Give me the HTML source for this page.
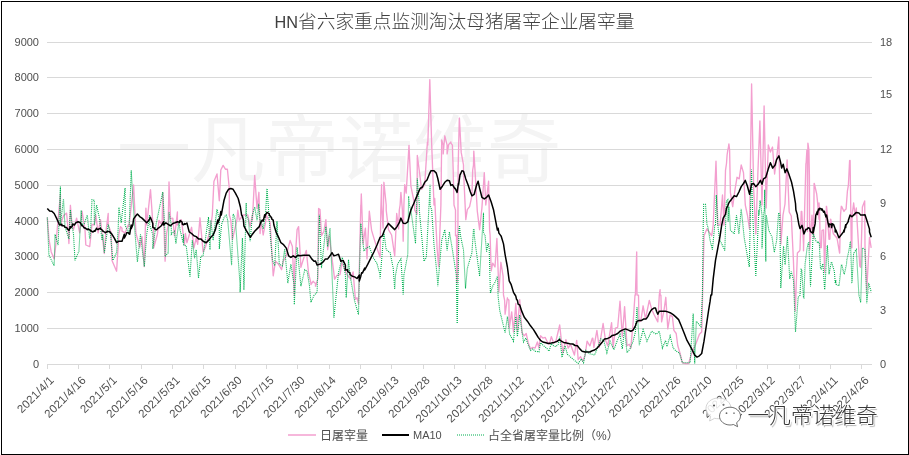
<!DOCTYPE html>
<html><head><meta charset="utf-8"><style>
*{margin:0;padding:0;box-sizing:border-box}
html,body{width:909px;height:455px;background:#fff;overflow:hidden}
body{position:relative;font-family:"Liberation Sans","Noto Sans CJK SC",sans-serif;color:#4f4f4f}
#frame{position:absolute;left:1px;top:1px;width:908px;height:454px;border:1px solid #000}
#title{position:absolute;left:274.5px;top:10px;font-weight:300;font-size:18.7px;line-height:24px;white-space:nowrap;color:#404040;font-family:"Liberation Sans","Noto Sans CJK SC",sans-serif}
#wm{position:absolute;left:117px;top:94px;font-size:74px;line-height:100px;color:#f4f4f4;white-space:nowrap;font-family:"Noto Sans CJK SC",sans-serif}
.yl{position:absolute;right:870px;font-size:11px;line-height:16px;white-space:nowrap;text-align:right}
.yr{position:absolute;left:880px;font-size:11px;line-height:16px;white-space:nowrap}
.xl{position:absolute;width:200px;text-align:right;font-size:11.5px;letter-spacing:0.25px;line-height:14px;white-space:nowrap;transform-origin:100% 0;transform:rotate(-45deg)}
svg{position:absolute;left:0;top:0}
.lg{position:absolute;top:428px;font-size:12px;line-height:16px;white-space:nowrap}
#wm2{position:absolute;left:747.5px;top:400px;font-size:21.7px;line-height:28px;white-space:nowrap;color:#383838;font-weight:300;font-family:"Noto Sans CJK SC",sans-serif;text-shadow:1px 0 0 #fff,-1px 0 0 #fff,0 1px 0 #fff,0 -1px 0 #fff,1.5px 1.5px 1px rgba(0,0,0,.3)}
#wx{position:absolute;left:0;top:0}
</style></head><body>
<div id="frame"></div>
<div id="wm">一凡帝诺维奇</div>
<div id="title"><span style="font-size:16.3px">HN</span>省六家重点监测淘汰母猪屠宰企业屠宰量</div>
<div class="yl" style="top:33.5px">9000</div><div class="yl" style="top:68.5px">8000</div><div class="yl" style="top:104.5px">7000</div><div class="yl" style="top:140.5px">6000</div><div class="yl" style="top:176.5px">5000</div><div class="yl" style="top:212.5px">4000</div><div class="yl" style="top:247.5px">3000</div><div class="yl" style="top:283.5px">2000</div><div class="yl" style="top:319.5px">1000</div><div class="yl" style="top:355.5px">0</div>
<div class="yr" style="top:33.5px">18</div><div class="yr" style="top:86.2px">15</div><div class="yr" style="top:140.8px">12</div><div class="yr" style="top:194.5px">9</div><div class="yr" style="top:248.2px">6</div><div class="yr" style="top:301.8px">3</div><div class="yr" style="top:355.5px">0</div>
<svg width="909" height="455" viewBox="0 0 909 455">
<line x1="47" y1="42.5" x2="872" y2="42.5" stroke="#d9d9d9" stroke-width="1"/><line x1="47" y1="77.5" x2="872" y2="77.5" stroke="#d9d9d9" stroke-width="1"/><line x1="47" y1="113.5" x2="872" y2="113.5" stroke="#d9d9d9" stroke-width="1"/><line x1="47" y1="149.5" x2="872" y2="149.5" stroke="#d9d9d9" stroke-width="1"/><line x1="47" y1="185.5" x2="872" y2="185.5" stroke="#d9d9d9" stroke-width="1"/><line x1="47" y1="221.5" x2="872" y2="221.5" stroke="#d9d9d9" stroke-width="1"/><line x1="47" y1="256.5" x2="872" y2="256.5" stroke="#d9d9d9" stroke-width="1"/><line x1="47" y1="292.5" x2="872" y2="292.5" stroke="#d9d9d9" stroke-width="1"/><line x1="47" y1="328.5" x2="872" y2="328.5" stroke="#d9d9d9" stroke-width="1"/><line x1="47" y1="364.5" x2="872" y2="364.5" stroke="#d9d9d9" stroke-width="1"/><line x1="47.5" y1="364" x2="47.5" y2="369" stroke="#d9d9d9" stroke-width="1"/><line x1="78.5" y1="364" x2="78.5" y2="369" stroke="#d9d9d9" stroke-width="1"/><line x1="109.5" y1="364" x2="109.5" y2="369" stroke="#d9d9d9" stroke-width="1"/><line x1="141.5" y1="364" x2="141.5" y2="369" stroke="#d9d9d9" stroke-width="1"/><line x1="172.5" y1="364" x2="172.5" y2="369" stroke="#d9d9d9" stroke-width="1"/><line x1="203.5" y1="364" x2="203.5" y2="369" stroke="#d9d9d9" stroke-width="1"/><line x1="235.5" y1="364" x2="235.5" y2="369" stroke="#d9d9d9" stroke-width="1"/><line x1="266.5" y1="364" x2="266.5" y2="369" stroke="#d9d9d9" stroke-width="1"/><line x1="297.5" y1="364" x2="297.5" y2="369" stroke="#d9d9d9" stroke-width="1"/><line x1="329.5" y1="364" x2="329.5" y2="369" stroke="#d9d9d9" stroke-width="1"/><line x1="360.5" y1="364" x2="360.5" y2="369" stroke="#d9d9d9" stroke-width="1"/><line x1="391.5" y1="364" x2="391.5" y2="369" stroke="#d9d9d9" stroke-width="1"/><line x1="423.5" y1="364" x2="423.5" y2="369" stroke="#d9d9d9" stroke-width="1"/><line x1="454.5" y1="364" x2="454.5" y2="369" stroke="#d9d9d9" stroke-width="1"/><line x1="485.5" y1="364" x2="485.5" y2="369" stroke="#d9d9d9" stroke-width="1"/><line x1="517.5" y1="364" x2="517.5" y2="369" stroke="#d9d9d9" stroke-width="1"/><line x1="548.5" y1="364" x2="548.5" y2="369" stroke="#d9d9d9" stroke-width="1"/><line x1="579.5" y1="364" x2="579.5" y2="369" stroke="#d9d9d9" stroke-width="1"/><line x1="611.5" y1="364" x2="611.5" y2="369" stroke="#d9d9d9" stroke-width="1"/><line x1="642.5" y1="364" x2="642.5" y2="369" stroke="#d9d9d9" stroke-width="1"/><line x1="673.5" y1="364" x2="673.5" y2="369" stroke="#d9d9d9" stroke-width="1"/><line x1="705.5" y1="364" x2="705.5" y2="369" stroke="#d9d9d9" stroke-width="1"/><line x1="736.5" y1="364" x2="736.5" y2="369" stroke="#d9d9d9" stroke-width="1"/><line x1="767.5" y1="364" x2="767.5" y2="369" stroke="#d9d9d9" stroke-width="1"/><line x1="799.5" y1="364" x2="799.5" y2="369" stroke="#d9d9d9" stroke-width="1"/><line x1="830.5" y1="364" x2="830.5" y2="369" stroke="#d9d9d9" stroke-width="1"/><line x1="861.5" y1="364" x2="861.5" y2="369" stroke="#d9d9d9" stroke-width="1"/><polyline points="47.3,217.4 48.9,238.9 51.2,251.9 54.2,258.9 55.8,245.0 60.4,194.3 60.4,225.0 63.5,215.8 66.6,213.1 68.1,229.7 68.9,243.5 70.4,205.3 72.0,225.0 73.5,229.7 76.6,218.1 79.7,232.8 82.0,211.2 85.0,229.7 85.8,245.0 89.7,246.6 92.0,224.3 94.3,225.0 95.8,215.1 98.1,232.8 100.5,219.7 104.3,253.5 105.8,232.8 108.2,213.5 108.2,225.0 111.2,232.8 112.0,260.4 116.6,271.2 118.9,234.2 120.5,226.6 122.0,228.2 122.0,231.2 125.1,232.8 128.2,225.0 128.9,226.6 133.6,185.0 135.9,232.8 139.7,247.3 142.0,236.6 144.3,266.6 145.9,208.1 146.7,225.0 150.5,189.6 153.6,234.3 153.6,248.1 157.4,234.2 159.0,220.4 162.1,225.0 162.8,192.7 165.1,261.2 166.7,232.8 168.2,225.0 169.0,181.9 170.5,218.9 172.8,218.1 174.4,235.8 175.1,232.8 177.4,212.0 177.4,225.0 181.3,219.7 182.3,226.6 184.4,245.0 185.4,233.5 186.9,242.7 191.6,227.3 193.9,248.1 196.2,238.1 197.7,244.3 200.0,217.8 200.0,218.1 203.1,252.0 205.4,247.3 209.3,233.5 211.6,220.1 212.3,215.0 213.9,181.6 217.0,173.9 219.3,200.8 220.8,170.0 223.1,165.4 225.4,169.2 227.4,169.2 229.3,188.5 229.3,215.0 230.8,220.1 232.4,239.6 237.0,219.6 237.8,210.1 239.3,220.1 243.2,215.0 247.8,215.0 250.1,226.6 252.4,215.0 252.4,220.1 254.7,175.4 257.0,208.5 258.9,192.3 260.1,233.5 260.9,220.1 263.2,235.0 265.5,222.7 266.2,215.0 270.1,222.7 273.2,275.8 275.5,261.2 278.6,264.3 281.6,269.7 283.2,261.2 286.3,255.8 290.1,240.4 292.4,246.6 294.3,295.4 294.7,265.8 297.1,229.6 298.6,226.6 300.9,267.4 303.2,259.7 306.3,250.4 308.6,273.5 310.9,282.8 310.9,284.6 313.2,281.2 313.2,281.5 315.5,283.5 315.5,286.2 317.8,278.9 318.6,208.5 320.0,209.6 321.5,235.8 323.9,231.2 325.9,219.6 327.7,249.7 329.2,235.8 334.6,279.2 336.9,275.4 340.0,274.6 340.8,270.0 341.6,262.0 346.9,274.6 350.8,279.2 353.1,272.0 355.4,299.3 357.0,297.7 358.5,303.9 360.8,205.0 360.8,210.1 361.3,193.9 361.9,210.1 363.1,243.5 365.4,228.1 367.0,258.9 369.3,211.2 371.6,230.4 373.9,238.1 377.0,248.1 380.1,257.4 380.8,210.1 381.6,184.7 381.6,205.0 383.1,228.1 383.9,182.3 386.2,205.0 386.2,210.1 388.5,229.6 391.6,235.0 394.7,255.8 396.7,213.5 398.6,228.9 399.3,210.1 400.1,205.0 400.9,192.4 402.4,210.1 403.2,241.2 403.9,205.0 404.7,184.7 406.2,193.1 409.0,145.4 410.9,186.2 414.7,205.0 414.7,210.1 417.0,214.2 417.3,155.4 419.3,170.8 421.6,189.3 424.7,184.7 427.4,142.3 427.8,145.1 429.8,79.6 431.7,145.1 434.0,205.0 434.7,198.5 437.1,248.1 438.6,266.6 440.9,205.0 441.7,140.0 443.2,145.1 443.2,153.9 444.8,135.8 447.1,145.1 447.1,153.9 448.6,144.6 450.9,142.0 450.9,143.1 452.4,145.1 453.2,170.8 454.0,205.0 455.5,210.1 455.5,235.8 456.5,235.1 456.9,282.4 457.1,275.1 457.1,283.1 457.8,270.0 458.1,165.0 458.1,170.1 459.3,118.2 459.4,118.1 461.2,152.4 463.5,165.0 463.5,170.1 465.8,219.7 467.3,209.7 469.6,206.6 471.9,195.8 472.7,170.1 473.5,165.0 473.8,151.1 475.0,170.1 477.3,211.2 479.6,229.7 481.9,208.1 484.3,172.7 485.8,205.0 488.6,181.2 489.6,230.0 490.1,235.1 491.2,270.8 492.7,263.1 495.0,267.0 496.9,238.5 498.9,291.6 500.9,262.3 503.1,276.2 503.5,295.0 504.6,300.1 505.1,314.2 507.4,297.8 507.4,298.9 508.9,300.1 509.2,328.1 511.7,311.9 513.5,332.0 515.8,303.5 517.4,330.4 519.7,299.6 522.0,332.7 524.3,335.8 526.2,333.5 528.2,342.7 530.5,348.9 532.8,347.4 535.1,348.1 537.4,342.0 538.9,348.1 540.5,335.8 542.8,338.1 545.1,337.4 547.4,342.0 549.3,344.3 551.3,336.6 553.6,342.7 555.9,341.2 559.7,325.0 561.3,339.7 562.8,352.8 565.9,339.7 568.2,348.1 570.5,344.3 574.4,355.1 576.7,340.4 578.2,359.7 580.5,356.6 582.8,361.2 585.1,355.1 587.1,341.2 589.8,345.8 590.0,345.8 592.3,338.1 592.8,338.1 593.9,347.4 594.4,344.3 596.9,330.4 599.2,347.4 603.1,323.5 605.4,339.7 607.7,345.8 611.6,322.7 613.1,347.4 615.4,328.1 617.7,327.3 620.0,301.2 622.3,336.6 624.6,306.6 627.0,345.8 629.3,344.3 630.8,348.1 633.1,322.7 635.0,295.0 635.4,295.1 636.7,251.9 637.0,295.0 638.5,295.1 639.0,321.9 640.8,321.2 643.1,305.8 645.5,318.9 649.3,300.4 651.6,308.9 653.9,314.2 657.8,321.9 659.3,295.1 660.1,289.7 660.1,295.0 660.9,295.1 661.6,321.9 663.9,311.2 665.8,297.3 667.8,328.9 670.1,315.0 672.4,316.6 673.9,330.4 676.2,333.5 677.8,345.8 680.1,353.5 682.4,362.8 685.5,363.5 688.6,363.5 691.6,353.5 696.3,342.7 699.4,334.3 701.7,332.0 704.0,235.8 707.0,228.8 711.7,235.8 713.2,225.0 713.2,225.1 716.0,161.2 717.8,225.1 720.1,225.1 722.5,195.0 724.0,225.1 725.0,191.2 725.5,170.4 726.5,163.5 727.1,155.0 727.8,150.1 728.4,147.3 728.9,143.9 729.6,150.1 730.4,192.7 732.7,206.6 735.0,189.7 737.0,177.3 739.2,178.9 741.2,165.0 743.5,172.7 745.3,205.0 747.4,215.0 749.5,229.0 751.6,84.0 753.7,190.0 755.8,234.0 757.8,175.0 759.9,121.0 762.0,205.0 764.1,106.0 766.2,208.0 768.3,145.0 770.4,152.0 772.5,147.0 774.6,174.0 776.7,158.0 778.8,137.0 780.9,244.0 783.0,215.0 785.0,204.0 787.1,160.0 789.2,212.0 791.3,216.0 793.4,260.0 795.3,311.0 797.4,253.1 799.7,250.8 800.0,249.6 801.2,211.5 801.2,215.1 801.8,211.5 803.5,244.3 803.5,250.8 805.9,163.5 806.1,163.2 806.9,150.1 807.4,150.0 807.4,231.6 807.9,143.2 808.9,150.1 809.4,175.8 809.7,249.3 812.0,215.1 813.6,238.5 814.1,183.4 814.3,183.5 816.7,194.0 817.4,200.4 819.0,219.2 819.0,202.8 819.7,215.1 820.2,247.9 821.3,247.7 822.0,230.3 823.6,230.0 824.6,272.5 826.4,206.3 826.6,206.6 827.4,215.1 829.0,239.3 829.9,239.1 830.5,219.2 830.8,219.4 832.8,231.6 833.4,233.8 836.7,237.7 836.9,237.3 839.6,253.1 839.7,253.1 840.5,215.1 841.3,206.3 841.7,206.6 844.0,211.5 844.4,210.5 846.1,208.9 847.4,191.2 848.4,185.2 849.6,160.6 850.1,160.4 851.3,247.7 851.9,247.9 852.1,215.1 853.6,203.5 853.6,202.8 855.1,215.1 856.3,208.0 859.8,266.2 860.7,267.2 862.4,207.1 864.7,201.0 865.0,246.1 866.8,290.1 869.5,237.3 871.2,247.9" fill="none" stroke="#f39fcf" stroke-width="1.35" stroke-linejoin="round"/><polyline points="47.3,217.4 48.9,255.0 54.2,265.8 55.0,234.3 58.1,245.0 60.4,186.6 60.4,225.0 63.5,198.9 65.0,226.6 68.9,238.9 70.4,209.7 72.0,225.0 73.5,234.3 75.0,260.4 78.9,251.2 81.2,210.4 82.0,225.0 84.3,223.5 87.3,215.1 89.7,238.9 90.4,234.3 92.0,199.7 94.3,200.4 94.3,225.0 96.6,205.0 99.7,219.7 102.0,240.4 102.8,234.3 104.3,252.7 108.2,224.3 110.5,234.3 112.8,260.4 116.6,252.7 118.2,228.1 118.9,207.3 121.2,222.8 125.1,188.1 125.1,225.0 128.9,234.3 131.2,170.4 135.1,234.3 137.4,262.0 140.5,234.3 144.3,266.6 146.7,234.2 149.7,215.1 149.7,225.0 152.8,234.3 152.8,248.9 155.9,225.0 162.8,191.9 165.1,234.3 165.1,256.6 168.2,252.7 169.0,212.0 171.3,225.0 171.3,234.3 174.4,231.2 175.9,243.5 179.0,222.0 180.0,229.6 183.1,242.7 183.6,234.3 183.6,245.0 186.2,245.8 190.0,276.6 192.3,240.4 194.6,258.1 196.2,249.7 198.5,278.1 200.8,256.6 203.1,255.8 208.5,217.0 208.5,217.3 210.0,249.7 210.8,220.1 213.1,240.4 216.2,215.0 217.0,209.3 219.3,220.1 219.3,248.9 221.6,224.2 223.9,218.1 225.4,215.5 226.2,215.0 227.7,220.1 231.6,265.1 233.1,213.9 233.9,215.0 235.4,220.1 240.1,285.1 240.1,292.3 242.4,238.1 243.9,285.1 243.9,290.0 246.2,203.1 246.2,215.0 248.5,220.1 250.1,241.2 252.4,215.0 254.7,207.0 257.0,220.1 257.8,215.0 258.6,203.9 260.1,221.2 260.9,220.1 263.2,228.9 265.5,215.0 267.0,188.5 269.3,220.1 270.1,232.7 272.4,259.7 274.7,265.8 277.0,221.2 279.3,264.3 282.4,265.8 284.7,248.9 287.8,282.8 287.8,283.1 290.9,264.3 294.0,284.3 294.3,304.6 297.1,247.3 300.9,286.2 301.7,282.8 304.8,269.7 307.1,271.2 309.4,285.1 310.9,302.3 314.0,295.4 317.1,292.3 319.4,214.7 319.4,215.0 321.5,268.1 325.9,226.6 327.7,246.6 330.0,228.1 333.9,317.7 338.5,272.8 342.3,257.4 345.4,275.1 346.2,297.7 348.5,259.7 350.0,275.1 354.6,300.8 358.5,314.7 359.3,275.1 360.8,223.5 363.9,251.2 366.2,248.1 369.3,246.6 373.1,257.4 377.0,263.5 380.1,275.1 380.1,278.5 383.9,232.7 386.2,249.7 390.1,252.7 393.2,268.1 394.7,289.2 395.5,275.1 397.8,263.5 400.9,258.9 403.2,294.6 403.9,275.1 407.8,254.3 408.6,196.2 409.3,205.0 410.9,210.1 415.5,243.5 417.3,178.5 419.3,205.0 419.3,210.1 424.0,261.2 426.3,257.4 430.1,184.7 430.1,205.0 431.7,210.1 434.0,245.0 437.1,275.1 437.8,286.2 441.7,240.4 444.8,229.6 447.1,250.4 449.4,231.9 452.4,249.7 456.3,275.1 457.1,323.1 457.3,323.5 458.9,230.0 459.4,226.6 459.6,226.6 460.4,235.1 463.5,250.0 465.5,288.5 467.3,268.5 470.4,257.7 471.9,253.1 473.5,228.9 474.2,230.0 474.2,235.1 479.6,276.2 483.5,212.7 483.5,233.1 485.0,235.1 486.6,251.6 488.1,243.1 489.2,248.5 490.4,293.1 492.7,286.2 495.0,282.4 497.4,276.2 498.1,296.2 499.7,310.4 505.1,332.7 507.4,316.6 509.7,334.3 513.5,341.2 515.8,316.6 517.4,336.6 519.7,315.0 523.5,342.0 525.9,338.1 527.4,342.7 530.5,350.4 532.8,348.9 535.1,351.2 538.9,352.0 540.5,342.7 543.6,345.8 546.6,348.1 549.0,351.2 551.3,343.5 553.6,345.8 555.9,346.6 558.2,344.3 559.7,336.6 562.0,357.4 565.1,345.8 567.4,354.3 573.6,359.7 578.2,363.5 581.3,358.9 583.6,362.8 585.9,350.4 589.0,353.5 592.1,354.3 594.4,355.1 594.6,355.1 597.7,347.4 600.8,338.9 603.9,341.2 606.9,352.8 610.0,341.2 613.9,349.7 617.0,341.2 620.0,334.3 622.3,348.9 624.6,328.9 627.0,352.8 630.0,348.9 633.1,341.2 635.4,332.0 637.0,307.3 639.3,345.1 643.1,329.6 647.0,341.2 651.6,331.2 656.2,334.3 659.3,331.2 662.4,348.1 665.5,340.4 667.0,346.6 670.1,335.8 673.2,348.1 676.2,351.2 679.3,352.8 682.4,362.8 690.1,362.8 693.2,313.5 694.7,363.5 696.3,321.2 700.9,326.6 702.4,295.1 703.2,226.5 703.7,204.3 705.5,204.3 707.0,225.1 707.8,226.5 710.1,240.4 712.4,249.6 714.8,225.0 715.5,225.1 716.3,195.0 717.8,225.1 719.4,238.9 724.8,250.4 726.3,201.2 726.5,201.2 727.8,199.7 728.1,221.6 728.9,206.6 729.6,215.1 730.4,230.0 734.2,233.9 736.5,215.4 738.9,233.9 741.2,208.9 741.2,210.0 741.9,215.1 744.2,237.7 749.3,267.0 750.4,215.1 751.5,169.6 752.7,215.1 755.8,276.2 755.8,276.5 758.9,210.0 758.9,215.1 760.1,200.4 762.0,215.1 762.0,248.5 763.5,215.1 764.3,210.0 764.7,189.7 765.8,261.6 766.3,215.1 768.9,230.8 772.0,236.9 774.3,252.3 776.6,240.8 778.6,212.8 778.9,213.1 779.7,215.1 780.8,288.1 783.5,246.2 785.1,264.7 787.4,236.2 789.7,278.9 791.2,271.6 793.5,280.1 795.5,332.0 798.2,297.3 800.0,295.3 801.2,269.3 801.8,269.8 803.5,298.0 803.9,298.1 805.1,263.9 807.0,248.7 808.2,243.1 808.8,242.6 810.5,286.6 810.5,286.5 813.2,233.8 813.6,234.6 815.9,240.8 817.4,242.3 817.6,241.7 819.3,242.6 820.5,268.5 821.1,269.0 822.8,263.9 822.9,263.7 824.6,289.2 824.8,289.6 827.2,246.1 827.4,245.4 829.0,273.1 829.0,274.2 831.3,262.4 831.6,261.9 834.4,271.6 835.2,283.0 835.9,280.1 835.9,284.2 838.7,285.7 839.0,285.8 839.7,280.1 841.3,265.4 842.0,265.4 844.0,274.2 844.4,273.9 846.6,263.7 846.7,260.8 849.0,250.0 850.1,242.6 850.5,242.3 851.9,282.1 852.1,281.9 853.6,253.1 856.3,249.6 858.9,295.3 860.2,300.4 860.7,302.4 862.4,247.9 865.0,249.6 866.8,303.2 868.6,283.0 871.2,291.8" fill="none" stroke="#00b050" stroke-width="1.1" stroke-dasharray="1 1"/><polyline points="47.3,208.4 49.6,210.9 51.9,211.2 54.2,213.5 56.5,218.1 58.9,223.5 59.6,225.0 61.9,224.3 61.9,225.8 64.2,225.8 65.0,227.3 66.6,227.4 67.3,228.8 68.1,229.7 68.9,230.4 70.4,226.6 70.4,228.1 72.0,226.5 72.7,224.0 74.3,225.0 75.8,222.8 78.1,221.7 80.4,222.8 82.0,225.8 82.7,225.8 84.3,228.1 85.0,227.8 87.3,229.6 88.1,228.9 90.4,230.4 90.4,230.5 92.7,231.9 92.7,232.0 95.1,230.5 95.1,231.2 96.6,228.2 96.6,228.8 98.1,229.6 98.9,228.9 100.5,228.2 100.5,228.8 102.8,230.5 102.8,231.2 105.1,232.4 105.1,232.8 107.4,231.5 107.4,231.5 109.7,231.5 109.7,231.9 112.0,234.2 112.0,234.3 114.3,238.1 116.6,242.7 118.9,241.2 122.0,241.2 124.3,234.3 124.3,238.1 125.9,235.0 126.6,232.8 128.2,232.7 128.9,233.5 129.7,234.2 131.2,225.1 131.2,228.8 132.8,225.0 133.6,218.9 135.9,215.8 137.4,214.0 139.7,216.6 142.0,218.1 144.3,220.4 146.7,222.8 148.5,220.8 150.5,217.4 152.8,223.5 152.8,227.3 154.7,228.2 155.1,229.6 156.7,229.7 158.2,228.1 159.0,227.8 161.3,225.8 161.3,225.8 163.6,221.7 163.6,225.0 165.9,222.8 168.2,224.3 170.5,225.8 172.8,223.5 175.1,222.8 177.4,221.7 179.8,222.3 180.0,220.4 182.1,222.0 182.3,224.2 183.6,224.8 184.6,223.5 185.0,224.3 186.9,223.0 189.2,231.9 191.6,233.5 193.9,235.8 196.2,236.6 198.5,238.9 200.8,238.9 203.1,241.2 206.2,242.7 208.5,240.4 210.8,237.3 213.1,235.0 215.4,229.6 217.7,220.1 217.7,223.5 220.0,217.3 220.8,211.6 221.3,215.0 223.9,200.8 226.2,193.1 228.5,189.3 230.8,188.5 233.1,189.3 235.4,193.1 238.2,198.5 240.4,207.0 241.6,215.0 242.4,216.2 243.4,220.1 243.9,225.8 246.2,230.4 248.5,234.2 250.4,237.3 252.4,234.2 254.7,231.2 257.0,228.9 259.3,226.6 260.9,221.9 262.4,220.1 263.2,221.2 264.7,214.7 264.7,217.3 265.5,215.0 267.0,212.4 269.3,213.9 269.3,215.0 271.6,217.8 271.6,218.8 273.2,220.1 273.9,225.0 276.3,232.7 278.6,237.3 280.9,242.7 283.2,244.3 286.3,248.1 288.6,255.8 290.9,257.4 293.2,255.8 295.5,257.4 297.8,255.3 300.1,255.8 303.2,255.3 306.3,255.3 309.4,255.3 311.7,258.9 314.0,261.2 315.5,260.9 317.1,265.1 319.4,264.3 320.0,264.3 323.1,262.0 325.4,258.9 327.7,258.9 330.0,255.8 332.0,252.7 333.9,255.8 336.2,255.1 338.5,254.3 340.8,261.2 343.1,260.4 345.4,265.1 345.4,270.0 347.7,269.7 347.7,271.5 350.0,272.8 350.0,274.6 350.8,275.1 352.3,276.2 354.6,276.9 357.0,278.5 359.3,275.1 359.3,281.1 360.8,276.2 361.6,272.8 362.4,273.1 364.7,268.1 364.7,270.0 367.7,264.3 370.8,258.1 373.9,252.0 377.0,245.0 380.1,237.3 382.4,235.8 384.7,229.6 388.5,223.5 391.6,226.6 394.7,229.6 397.0,226.6 399.3,222.7 400.9,218.1 403.2,223.2 405.5,223.5 407.8,221.9 410.1,212.7 410.9,210.1 412.4,206.5 413.2,204.7 413.2,205.0 415.5,199.3 417.8,193.9 420.1,188.5 422.4,187.0 424.7,182.3 427.0,180.0 429.4,173.9 430.9,170.8 434.0,170.8 436.3,173.1 437.8,178.5 440.1,189.3 442.4,186.2 444.8,182.3 447.1,180.3 449.4,180.8 450.9,185.4 452.4,184.7 454.8,188.5 455.0,188.1 456.9,191.9 457.1,192.4 458.4,183.5 458.6,184.7 460.0,174.7 460.4,174.2 461.9,170.8 463.5,171.2 465.8,178.9 468.1,185.0 470.4,191.9 471.9,195.8 474.2,194.3 476.6,185.0 478.1,181.2 479.6,188.1 481.9,197.3 484.3,198.9 486.6,197.3 488.6,195.0 491.2,202.0 493.5,209.7 495.4,219.7 497.4,230.0 498.1,228.2 498.9,233.1 500.4,235.1 501.2,236.2 503.5,243.9 505.1,254.6 507.4,267.0 509.2,280.8 511.2,284.7 513.5,292.4 515.1,295.0 515.8,296.2 516.6,299.6 517.4,300.1 518.1,304.2 519.7,305.0 522.0,311.9 524.3,317.3 527.4,321.2 530.5,325.8 533.5,329.6 535.9,333.5 538.2,337.4 540.5,340.4 542.8,342.0 545.9,342.7 548.2,343.5 551.3,343.1 554.3,342.4 557.4,341.2 559.4,339.7 561.3,341.2 563.6,342.4 566.7,343.1 569.7,343.7 572.8,344.0 575.1,345.5 577.4,345.8 579.8,348.9 582.1,351.2 585.1,352.0 588.2,352.0 590.0,352.0 591.3,351.2 593.1,350.4 594.4,350.1 596.2,348.9 599.2,345.8 602.3,342.0 604.6,338.9 607.7,338.4 610.0,337.4 612.3,335.4 615.4,334.7 617.7,333.5 620.0,331.2 622.3,330.1 625.4,328.9 628.5,330.1 630.8,331.2 633.1,330.1 635.4,325.8 637.0,321.2 639.3,320.4 641.6,320.4 643.9,318.9 646.2,318.9 647.8,316.6 650.1,311.9 651.6,309.6 653.9,308.1 655.5,308.1 656.5,311.2 657.8,314.2 659.3,311.2 662.4,311.2 665.5,311.2 667.8,311.9 670.1,312.7 673.2,314.7 675.5,316.6 678.6,319.6 680.9,325.0 684.0,332.7 687.0,340.4 690.1,345.8 692.4,350.4 694.7,355.1 697.0,357.1 699.4,355.8 701.7,353.5 704.0,341.2 706.3,325.8 708.6,310.4 710.1,301.2 710.9,295.1 711.7,295.0 713.2,278.9 715.5,260.4 717.8,248.1 720.1,235.8 721.7,225.0 721.7,225.1 723.2,218.2 725.0,215.1 725.5,214.3 726.5,208.2 727.8,205.8 728.9,202.8 730.0,201.2 731.2,199.7 734.2,195.8 736.5,196.6 738.9,192.0 741.2,186.6 743.5,183.5 745.3,180.4 747.3,185.8 749.6,194.3 751.5,184.3 753.5,183.5 755.8,186.6 758.1,184.3 760.4,180.4 762.0,184.3 763.5,178.9 765.8,177.3 768.1,169.6 770.4,162.7 772.7,168.1 775.1,165.0 776.6,159.6 778.9,155.8 780.5,161.9 781.7,168.1 783.2,164.2 785.1,172.7 786.9,168.9 788.9,174.3 791.5,182.0 793.5,191.2 795.5,203.5 795.9,210.0 797.4,215.1 797.4,216.2 798.9,224.6 800.0,228.5 800.2,228.5 802.0,225.4 802.6,227.6 803.9,233.9 804.4,232.9 805.9,229.2 807.0,229.4 808.2,227.7 809.7,228.5 810.5,231.6 812.8,233.1 813.2,227.4 813.2,232.9 815.1,223.9 815.8,215.1 815.9,215.1 817.4,211.2 817.4,214.6 818.5,208.9 819.0,210.0 819.7,208.2 821.1,208.9 821.3,210.0 822.0,208.9 823.6,212.3 823.7,211.5 824.3,211.2 825.9,216.9 826.4,215.9 826.6,215.1 827.9,222.3 829.0,226.9 829.0,223.8 830.8,224.7 831.3,223.9 831.6,227.6 832.5,223.8 833.6,224.6 835.2,229.1 835.2,232.0 835.9,230.0 838.7,237.3 839.0,237.7 841.3,234.6 841.3,234.7 843.6,231.6 844.0,230.0 844.0,232.0 845.7,224.7 845.7,227.6 845.9,225.4 848.2,221.6 848.4,220.3 850.1,215.1 851.9,216.8 853.6,215.1 856.3,212.4 858.9,212.9 860.7,215.1 863.3,215.1 865.0,214.7 866.8,220.3 869.5,229.1 869.5,232.0 871.2,237.3" fill="none" stroke="#000" stroke-width="1.5" stroke-linejoin="round"/>
<line x1="288" y1="435" x2="316" y2="435" stroke="#f39fcf" stroke-width="1.5"/>
<line x1="382" y1="435" x2="409" y2="435" stroke="#000" stroke-width="2"/>
<line x1="457" y1="435" x2="484" y2="435" stroke="#00b050" stroke-width="1.1" stroke-dasharray="1 1"/>
</svg>
<div class="xl" style="left:-152.7px;top:372.5px">2021/4/1</div><div class="xl" style="left:-121.4px;top:372.5px">2021/4/16</div><div class="xl" style="left:-90.1px;top:372.5px">2021/5/1</div><div class="xl" style="left:-58.7px;top:372.5px">2021/5/16</div><div class="xl" style="left:-27.4px;top:372.5px">2021/5/31</div><div class="xl" style="left:3.9px;top:372.5px">2021/6/15</div><div class="xl" style="left:35.2px;top:372.5px">2021/6/30</div><div class="xl" style="left:66.6px;top:372.5px">2021/7/15</div><div class="xl" style="left:97.9px;top:372.5px">2021/7/30</div><div class="xl" style="left:129.2px;top:372.5px">2021/8/14</div><div class="xl" style="left:160.6px;top:372.5px">2021/8/29</div><div class="xl" style="left:191.9px;top:372.5px">2021/9/13</div><div class="xl" style="left:223.2px;top:372.5px">2021/9/28</div><div class="xl" style="left:254.5px;top:372.5px">2021/10/13</div><div class="xl" style="left:285.9px;top:372.5px">2021/10/28</div><div class="xl" style="left:317.2px;top:372.5px">2021/11/12</div><div class="xl" style="left:348.5px;top:372.5px">2021/11/27</div><div class="xl" style="left:379.8px;top:372.5px">2021/12/12</div><div class="xl" style="left:411.2px;top:372.5px">2021/12/27</div><div class="xl" style="left:442.5px;top:372.5px">2022/1/11</div><div class="xl" style="left:473.8px;top:372.5px">2022/1/26</div><div class="xl" style="left:505.1px;top:372.5px">2022/2/10</div><div class="xl" style="left:536.5px;top:372.5px">2022/2/25</div><div class="xl" style="left:567.8px;top:372.5px">2022/3/12</div><div class="xl" style="left:599.1px;top:372.5px">2022/3/27</div><div class="xl" style="left:630.5px;top:372.5px">2022/4/11</div><div class="xl" style="left:661.8px;top:372.5px">2022/4/26</div>
<div class="lg" style="left:320px">日屠宰量</div>
<div class="lg" style="left:413px;font-size:11px;top:427px">MA10</div>
<div class="lg" style="left:488px">占全省屠宰量比例（%）</div>
<svg id="wx" width="909" height="455" viewBox="0 0 909 455">
<g fill="#fff" fill-opacity=".85" stroke="#c8c8c8" stroke-width=".8">
<path d="M718.5 398 C711.5 398 706 402.6 706 408.3 C706 411.6 707.8 414.4 710.6 416.3 L709.6 421 L714.6 418.3 C715.9 418.6 717.2 418.7 718.5 418.7 C725.5 418.7 731 414.1 731 408.3 C731 402.6 725.5 398 718.5 398 Z"/>
</g>
<circle cx="714" cy="405.5" r="1.1" fill="#555"/><circle cx="723.5" cy="404.8" r="1.1" fill="#777"/>
<g fill="#fff" stroke="#4a4a4a" stroke-width=".8">
<path d="M730 407.2 C724.2 407.2 719.5 411.2 719.5 416.1 C719.5 421 724.2 425 730 425 C731.2 425 732.3 424.8 733.4 424.5 L737.6 426.7 L736.6 422.7 C739 421 740.5 418.7 740.5 416.1 C740.5 411.2 735.8 407.2 730 407.2 Z"/>
</g>
<circle cx="726.5" cy="413.2" r="0.9" fill="#666"/><circle cx="734" cy="413.2" r="0.9" fill="#888"/>
</svg>
<div id="wm2">一凡帝诺维奇</div>
</body></html>
